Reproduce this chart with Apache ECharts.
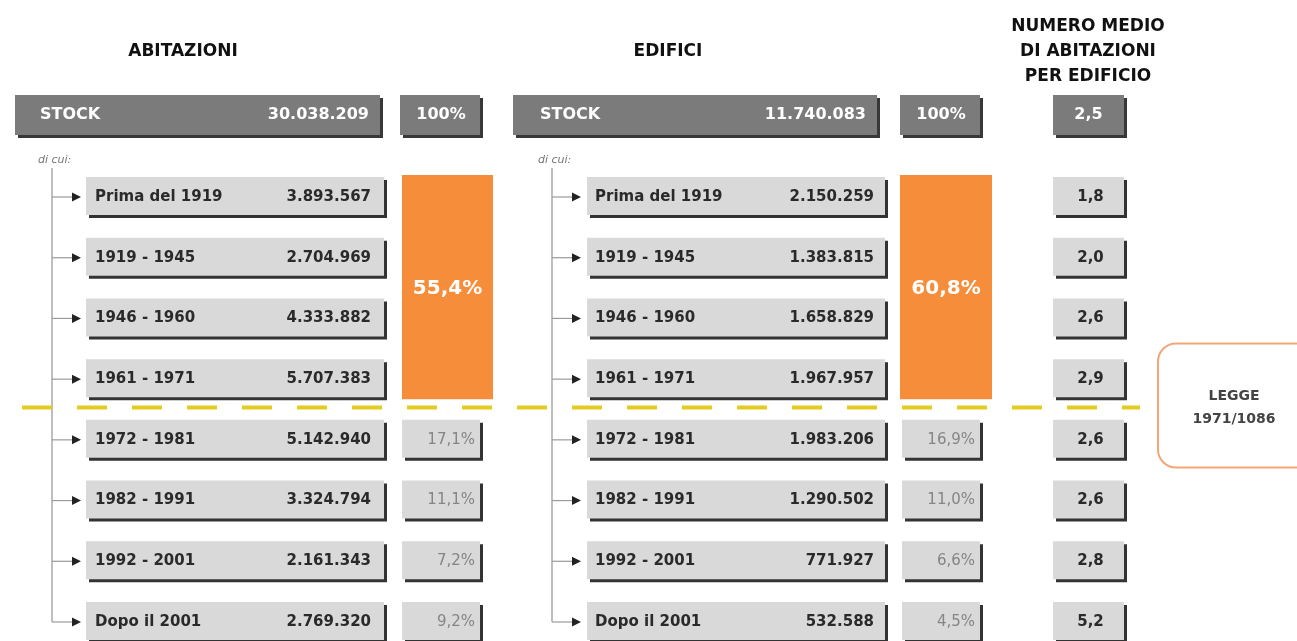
<!DOCTYPE html>
<html>
<head>
<meta charset="utf-8">
<script src="https://cdn.jsdelivr.net/npm/echarts@6/dist/echarts.min.js"></script>
<style>
html,body{margin:0;padding:0;background:#fff;}
#chart{width:1297px;height:641px;}
</style>
</head>
<body>
<div id="chart"></div>
<script>
// ---------------- DATA ----------------
const periods = ['Prima del 1919', '1919 - 1945', '1946 - 1960', '1961 - 1971', '1972 - 1981', '1982 - 1991', '1992 - 2001', 'Dopo il 2001'];
const abitazioni = [3893567, 2704969, 4333882, 5707383, 5142940, 3324794, 2161343, 2769320];
const edifici = [2150259, 1383815, 1658829, 1967957, 1983206, 1290502, 771927, 532588];
const abitazioniShare = [null, null, null, null, 17.1, 11.1, 7.2, 9.2];
const edificiShare = [null, null, null, null, 16.9, 11.0, 6.6, 4.5];
const mediaAbitazioni = [1.8, 2.0, 2.6, 2.9, 2.6, 2.6, 2.8, 5.2];
const stockRow = ['STOCK'];
const stockAbitazioni = [30038209];
const stockEdifici = [11740083];
const stockShare = ['100%'];
const stockMedia = [2.5];
const pre1972Share = [55.4, 60.8]; // abitazioni, edifici (rows up to 1961-1971)
const pre1972Rows = 4;
const columnTitles = ['ABITAZIONI', 'EDIFICI', 'NUMERO MEDIO\nDI ABITAZIONI\nPER EDIFICIO'];
const diCuiLabel = 'di cui:';
const leggeLabel = 'LEGGE\n1971/1086';

// ---------------- LAYOUT / STYLE ----------------
const FONT = '"DejaVu Sans", "Liberation Sans", Arial, sans-serif';
const S = {
  a: {stockL: 15, stockR: 380, treeX: 52, boxL: 86, boxR: 384, labelX: 95, valueR: 371, pctL: 402, pctR: 480, orL: 402, orR: 493, diCuiX: 38, stockTextX: 40, stockValueR: 369},
  e: {stockL: 513, stockR: 877, treeX: 552, boxL: 587, boxR: 885, labelX: 595, valueR: 874, pctL: 902, pctR: 980, orL: 900, orR: 992, diCuiX: 538, stockTextX: 540, stockValueR: 866},
  avg: {l: 1053, r: 1124},
  rowHalf: 20, rowH: 38, stockH: 40,
  boxFill: '#d9d9d9', boxShadow: '#333333',
  stockFill: '#7b7b7b', stockShadow: '#383838',
  orange: '#f68d3a', dash: '#e3cb1f',
  lineStart: 22, lineEnd: 1140,
  legge: {l: 1158, w: 160, up: 64, down: 60, cx: 1234}
};
const fmtInt = n => String(n).replace(/\B(?=(\d{3})+(?!\d))/g, '.');
const fmtDec = v => v.toFixed(1).replace('.', ',');

function box(l, t, r, h, fill, shadow) {
  return [
    {type: 'rect', shape: {x: l + 3, y: t + 3, width: r - l, height: h}, style: {fill: shadow}},
    {type: 'rect', shape: {x: l, y: t, width: r - l, height: h}, style: {fill: fill}}
  ];
}
function txt(text, x, y, font, fill, align, lineHeight) {
  const st = {text: text, x: x, y: y, font: font, fill: fill, align: align || 'left', verticalAlign: 'middle'};
  if (lineHeight) st.lineHeight = lineHeight;
  return {type: 'text', style: st};
}

const chart = echarts.init(document.getElementById('chart'), null, {renderer: 'canvas'});

function renderStock(params, api) {
  const i = api.value(1);
  const y = api.coord([0, i])[1];
  const t = y - S.stockH / 2;
  const F = 'bold 16px ' + FONT;
  let c = [];
  [['a', stockAbitazioni], ['e', stockEdifici]].forEach(function (d) {
    const k = S[d[0]];
    c = c.concat(box(k.stockL, t, k.stockR, S.stockH, S.stockFill, S.stockShadow));
    c.push(txt(stockRow[i], k.stockTextX, y, F, '#ffffff'));
    c.push(txt(fmtInt(d[1][i]), k.stockValueR, y, F, '#ffffff', 'right'));
    c = c.concat(box(k.pctL - 2, t, k.pctR, S.stockH, S.stockFill, S.stockShadow));
    c.push(txt(stockShare[i], (k.pctL + k.pctR) / 2, y, F, '#ffffff', 'center'));
    c.push(txt(diCuiLabel, k.diCuiX, y + 45, 'italic 11px ' + FONT, '#777777'));
  });
  c = c.concat(box(S.avg.l, t, S.avg.r, S.stockH, S.stockFill, S.stockShadow));
  c.push(txt(fmtDec(stockMedia[i]), (S.avg.l + S.avg.r) / 2, y, F, '#ffffff', 'center'));
  return {type: 'group', children: c};
}

function renderRow(params, api) {
  const i = api.value(1);
  const y = api.coord([0, i])[1];
  const t = y - S.rowHalf;
  const F = 'bold 15px ' + FONT;
  let c = [];
  [['a', abitazioni, abitazioniShare], ['e', edifici, edificiShare]].forEach(function (d) {
    const k = S[d[0]];
    c.push({type: 'line', shape: {x1: k.treeX, y1: y, x2: k.treeX + 22, y2: y}, style: {stroke: '#9a9a9a', lineWidth: 1.2}});
    c.push({type: 'polygon', shape: {points: [[k.treeX + 20, y - 4.5], [k.treeX + 29, y], [k.treeX + 20, y + 4.5]]}, style: {fill: '#222'}});
    c = c.concat(box(k.boxL, t, k.boxR, S.rowH, S.boxFill, S.boxShadow));
    c.push(txt(periods[i], k.labelX, y, F, '#2a2a2a'));
    c.push(txt(fmtInt(d[1][i]), k.valueR, y, F, '#2a2a2a', 'right'));
    if (d[2][i] != null) {
      c = c.concat(box(k.pctL, t, k.pctR, S.rowH, S.boxFill, S.boxShadow));
      c.push(txt(fmtDec(d[2][i]) + '%', k.pctR - 5, y, '15px ' + FONT, '#858585', 'right'));
    }
  });
  c = c.concat(box(S.avg.l, t, S.avg.r, S.rowH, S.boxFill, S.boxShadow));
  c.push(txt(fmtDec(mediaAbitazioni[i]), (S.avg.l + S.avg.r) / 2 + 2, y, 'bold 15px ' + FONT, '#2a2a2a', 'center'));
  return {type: 'group', children: c};
}

function renderFrame(params, api) {
  const y0 = api.coord([0, 0])[1];
  const yLast = api.coord([0, pre1972Rows - 1])[1];
  const yEnd = api.coord([0, periods.length - 1])[1];
  let c = [];
  ['a', 'e'].forEach(function (s) {
    const k = S[s];
    c.push({type: 'line', shape: {x1: k.treeX, y1: y0 - 29, x2: k.treeX, y2: yEnd}, style: {stroke: '#a8a8a8', lineWidth: 1.5}});
  });
  [['a', 0], ['e', 1]].forEach(function (d) {
    const k = S[d[0]];
    const top = y0 - 22, bot = yLast + 20;
    c.push({type: 'rect', shape: {x: k.orL, y: top, width: k.orR - k.orL, height: bot - top}, style: {fill: S.orange}});
    c.push(txt(fmtDec(pre1972Share[d[1]]) + '%', (k.orL + k.orR) / 2, (top + bot) / 2 + 2, 'bold 20px ' + FONT, '#ffffff', 'center'));
  });
  return {type: 'group', children: c};
}

function renderDivider(params, api) {
  const yLast = api.coord([0, pre1972Rows - 1])[1];
  const yNext = api.coord([0, pre1972Rows])[1];
  const lineY = (yLast + yNext) / 2 - 2;
  const L = S.legge;
  return {type: 'group', children: [
    {type: 'line', shape: {x1: S.lineStart, y1: lineY, x2: S.lineEnd, y2: lineY}, style: {stroke: S.dash, lineWidth: 4, lineDash: [30, 25]}},
    {type: 'rect', shape: {x: L.l, y: lineY - L.up, width: L.w, height: L.up + L.down, r: 18}, style: {fill: '#ffffff', stroke: '#f2a676', lineWidth: 2}},
    txt(leggeLabel, L.cx, lineY, 'bold 14px ' + FONT, '#444444', 'center', 23)
  ]};
}

const TF = 'bold 17px ' + FONT;
const option = {
  backgroundColor: '#ffffff',
  animation: false,
  grid: [
    {left: 0, right: 0, top: 95, height: 40},
    {left: 0, right: 0, top: 197, bottom: 19}
  ],
  xAxis: [
    {gridIndex: 0, type: 'value', min: 0, max: 1297, show: false},
    {gridIndex: 1, type: 'value', min: 0, max: 1297, show: false}
  ],
  yAxis: [
    {gridIndex: 0, type: 'category', data: stockRow, show: false, boundaryGap: true},
    {gridIndex: 1, type: 'category', data: periods, show: false, boundaryGap: false, inverse: true}
  ],
  graphic: [
    {type: 'text', style: {text: columnTitles[0], x: 183, y: 52, font: TF, fill: '#111', align: 'center', verticalAlign: 'middle'}},
    {type: 'text', style: {text: columnTitles[1], x: 668, y: 52, font: TF, fill: '#111', align: 'center', verticalAlign: 'middle'}},
    {type: 'text', style: {text: columnTitles[2], x: 1088, y: 52, font: TF, fill: '#111', align: 'center', verticalAlign: 'middle', lineHeight: 25}}
  ],
  series: [
    {type: 'custom', xAxisIndex: 1, yAxisIndex: 1, renderItem: renderFrame, data: [[0, 0]], z: 1},
    {type: 'custom', xAxisIndex: 0, yAxisIndex: 0, renderItem: renderStock, data: stockRow.map((s, i) => [0, i]), z: 2},
    {type: 'custom', xAxisIndex: 1, yAxisIndex: 1, renderItem: renderRow, data: periods.map((p, i) => [0, i]), z: 2},
    {type: 'custom', xAxisIndex: 1, yAxisIndex: 1, renderItem: renderDivider, data: [[0, pre1972Rows]], z: 3}
  ]
};
chart.setOption(option);
</script>
</body>
</html>
